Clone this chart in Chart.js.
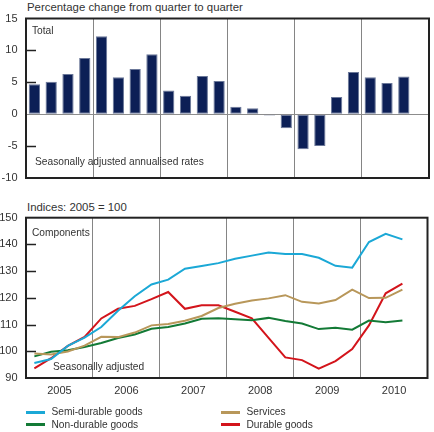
<!DOCTYPE html>
<html>
<head>
<meta charset="utf-8">
<script src="https://cdn.jsdelivr.net/npm/chart.js@4"></script>
<style>
  body { margin: 0; background: #fff; }
  #wrap { position: relative; width: 434px; height: 432px; font-family: "Liberation Sans", Arial, sans-serif; color: #333; }
  .txt { position: absolute; font-size: 10.2px; line-height: 14px; white-space: nowrap; }
  .hdr { font-size: 11.4px; }
  canvas { position: absolute; left: 0; }
  .sw { position: absolute; width: 19px; height: 3px; }
</style>
</head>
<body>
<div id="wrap">
  <div class="txt hdr" style="left:27px;top:0px">Percentage change from quarter to quarter</div>
  <canvas id="totalChart" width="434" height="200" style="top:0"></canvas>
  <div class="txt hdr" style="left:27px;top:199.5px">Indices: 2005 = 100</div>
  <canvas id="compChart" width="434" height="205" style="top:195px"></canvas>
  <div id="legend"></div>
</div>
<script>
// quarters 2005Q1 .. 2010Q4 (last quarter has no data yet)
const quarters = ['2005Q1','2005Q2','2005Q3','2005Q4','2006Q1','2006Q2','2006Q3','2006Q4',
                  '2007Q1','2007Q2','2007Q3','2007Q4','2008Q1','2008Q2','2008Q3','2008Q4',
                  '2009Q1','2009Q2','2009Q3','2009Q4','2010Q1','2010Q2','2010Q3','2010Q4'];
const years = ['2005', '2006', '2007', '2008', '2009', '2010'];

const total = [4.7, 5.1, 6.3, 8.8, 12.2, 5.8, 7.1, 9.4, 3.7, 2.9, 6.0, 5.2,
               1.15, 0.95, -0.2, -2.2, -5.5, -5.0, 2.7, 6.6, 5.8, 4.9, 5.9];

const semiDurable = [95.6, 97.1, 102.0, 105.1, 109.1, 115.2, 120.6, 125.0, 126.8, 130.9, 131.9, 133.0,
                     134.6, 135.8, 137.0, 136.4, 136.4, 135.0, 132.0, 131.3, 140.9, 144.0, 141.9];
const services = [99.2, 98.8, 99.9, 102.1, 105.4, 105.3, 107.0, 109.7, 110.2, 111.4, 113.2, 116.2,
                  117.8, 119.0, 119.8, 121.0, 118.5, 117.9, 119.2, 123.1, 119.9, 120.0, 123.1];
const nonDurable = [98.1, 99.8, 100.4, 101.6, 103.1, 105.0, 106.3, 108.4, 109.1, 110.4, 112.2, 112.4,
                    112.0, 111.6, 112.5, 111.3, 110.4, 108.3, 108.8, 108.1, 111.5, 110.9, 111.5];
const durable = [93.6, 97.4, 102.0, 105.4, 112.3, 115.9, 117.0, 119.5, 122.2, 115.9, 117.2, 117.2,
                 114.8, 112.3, 105.0, 97.7, 96.7, 93.5, 96.3, 100.8, 109.7, 121.7, 125.3];

const totalTicks = [-10, -5, 0, 5, 10, 15];
const indexTicks = [90, 100, 110, 120, 130, 140, 150];

const FAMILY = '"Liberation Sans", Arial, sans-serif';
const TICK_FONT = { family: FAMILY, size: 11 };
const NOTE_SIZE = 10.2;
const TEXT = '#333';

// quarter i sits in the middle of its slot on a 0..24 axis
const toPoints = arr => arr.map((v, i) => ({ x: i + 0.5, y: v }));

const frame = {
  id: 'frame',
  afterDraw(chart, args, opts) {
    const { ctx, chartArea: a } = chart;
    const y = chart.scales.y;
    ctx.save();
    ctx.strokeStyle = '#222';
    ctx.lineWidth = 1.5;
    y.ticks.forEach(t => {
      if (t.value <= y.min || t.value >= y.max || (opts.skipZero && t.value === 0)) return;
      const py = Math.round(y.getPixelForValue(t.value)) + 0.5;
      ctx.beginPath();
      ctx.moveTo(a.left, py);
      ctx.lineTo(a.left + 10, py);
      ctx.stroke();
    });
    ctx.lineWidth = 2;
    ctx.strokeRect(a.left, a.top, a.right - a.left, a.bottom - a.top);
    ctx.fillStyle = TEXT;
    ctx.font = NOTE_SIZE + 'px ' + FAMILY;
    ctx.textBaseline = 'middle';
    (opts.notes || []).forEach(n => ctx.fillText(n.text, a.left + n.dx, n.fromBottom ? a.bottom - n.dy : a.top + n.dy));
    ctx.restore();
  }
};

function xAxis(showYears) {
  return {
    type: 'linear', min: 0, max: quarters.length, offset: false,
    afterFit: s => { s.height = showYears ? 22 : 0; },
    border: { display: false },
    grid: {
      offset: false, drawTicks: false, lineWidth: 1,
      color: c => (c.tick && c.tick.value % 4 === 0 && c.tick.value > 0 && c.tick.value < quarters.length) ? '#858585' : 'transparent'
    },
    ticks: {
      display: showYears, stepSize: 2, autoSkip: false, maxRotation: 0, padding: 6.5,
      color: TEXT, font: TICK_FONT,
      callback: v => (v % 4 === 2 ? years[(v - 2) / 4] : '')
    }
  };
}

function yAxis(min, max, step, zeroLine) {
  return {
    min: min, max: max,
    afterFit: s => { s.width = 26; },
    border: { display: false },
    grid: {
      drawTicks: false,
      color: c => (zeroLine && c.tick && c.tick.value === 0) ? '#8c8c8c' : 'transparent'
    },
    ticks: { stepSize: step, padding: 8.5, color: TEXT, font: TICK_FONT }
  };
}

new Chart(document.getElementById('totalChart'), {
  type: 'bar',
  data: {
    datasets: [{
      label: 'Total',
      data: toPoints(total),
      backgroundColor: '#0c1f56',
      borderColor: '#6b7899',
      borderWidth: 1,
      borderSkipped: false,
      categoryPercentage: 1,
      barPercentage: 0.67
    }]
  },
  options: {
    responsive: false,
    animation: false,
    layout: { padding: { left: 0, right: 5, top: 18.5, bottom: 22 } },
    scales: {
      x: xAxis(false),
      y: yAxis(totalTicks[0], totalTicks[totalTicks.length - 1], 5, true)
    },
    plugins: {
      legend: { display: false },
      tooltip: { enabled: false },
      frame: {
        skipZero: true,
        notes: [
          { text: 'Total', dx: 6, dy: 12.5 },
          { text: 'Seasonally adjusted annualised rates', dx: 9, dy: 15.5, fromBottom: true }
        ]
      }
    }
  },
  plugins: [frame]
});

const series = [
  { label: 'Semi-durable goods', values: semiDurable, color: '#1ba8d6' },
  { label: 'Services', values: services, color: '#b8975a' },
  { label: 'Non-durable goods', values: nonDurable, color: '#137a36' },
  { label: 'Durable goods', values: durable, color: '#d3141b' }
];

new Chart(document.getElementById('compChart'), {
  type: 'line',
  data: {
    datasets: series.map(s => ({
      label: s.label,
      data: toPoints(s.values),
      borderColor: s.color,
      backgroundColor: s.color,
      borderWidth: 2,
      pointRadius: 0,
      tension: 0,
      fill: false
    }))
  },
  options: {
    responsive: false,
    animation: false,
    layout: { padding: { left: 0, right: 5, top: 22.7, bottom: 0 } },
    scales: {
      x: xAxis(true),
      y: yAxis(indexTicks[0], indexTicks[indexTicks.length - 1], 10, false)
    },
    plugins: {
      legend: { display: false },
      tooltip: { enabled: false },
      frame: {
        notes: [
          { text: 'Components', dx: 6, dy: 15.5 },
          { text: 'Seasonally adjusted', dx: 27, dy: 11, fromBottom: true }
        ]
      }
    }
  },
  plugins: [frame]
});

// two-column legend under the chart
const legend = document.getElementById('legend');
series.forEach((s, i) => {
  const col = i % 2, row = Math.floor(i / 2);
  const left = col ? 221 : 26;
  const cy = row ? 424.5 : 412.3;
  const sw = document.createElement('div');
  sw.className = 'sw';
  sw.style.cssText = 'left:' + left + 'px;top:' + (cy - 1.5) + 'px;background:' + s.color;
  const t = document.createElement('div');
  t.className = 'txt';
  t.style.cssText = 'left:' + (left + 25.5) + 'px;top:' + (cy - 7) + 'px';
  t.textContent = s.label;
  legend.appendChild(sw);
  legend.appendChild(t);
});
</script>
</body>
</html>
